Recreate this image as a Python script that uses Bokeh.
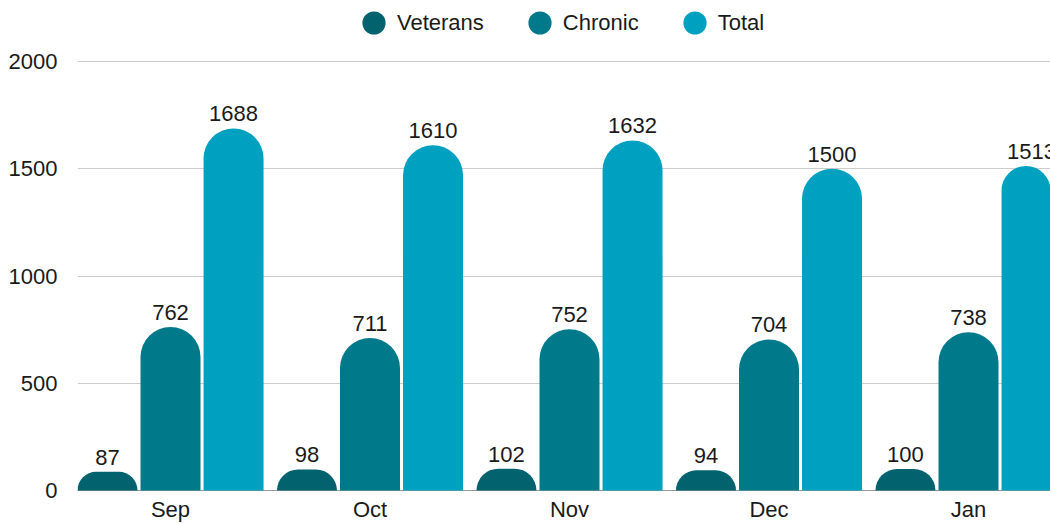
from bokeh.plotting import figure
from bokeh.models import (ColumnDataSource, Range1d, FixedTicker, LabelSet,
                          Legend, LegendItem, Span)
from bokeh.core.properties import value
from bokeh.embed import file_html
from bokeh.resources import INLINE

# ---- data ----
months = ["Sep", "Oct", "Nov", "Dec", "Jan"]
veterans = [87, 98, 102, 94, 100]
chronic = [762, 711, 752, 704, 738]
total = [1688, 1610, 1632, 1500, 1513]
series_names = ["Veterans", "Chronic", "Total"]
series_values = [veterans, chronic, total]
series_colors = ["#02636F", "#007A8A", "#00A1C0"]
y_ticks = [0, 500, 1000, 1500, 2000]

# ---- layout constants ----
W, H = 1050, 523
FONT = "Liberation Sans"
FS = "22px"
TXT = "#1a1a1a"
BAR_W = 0.3008
OFFSET = 0.316

p = figure(width=W, height=H, output_backend="svg", toolbar_location=None,
           x_range=Range1d(-0.4662, 4.411), y_range=Range1d(-153.8, 2284.4),
           x_axis_location=None,
           min_border_left=77, min_border_right=0, min_border_top=0,
           min_border_bottom=0)
p.outline_line_color = None
p.background_fill_color = "white"
p.border_fill_color = "white"

zero = Span(location=0, dimension="width", line_color="#9a9a9a", line_width=1,
            level="underlay")
p.add_layout(zero)

legend_items = []
for k, (name, vals, col) in enumerate(zip(series_names, series_values, series_colors)):
    xs = [i + (k - 1) * OFFSET for i in range(len(months))]
    src = ColumnDataSource(dict(x=xs, top=vals, base=[0] * len(vals),
                                label=[str(v) for v in vals]))
    p.vbar(x="x", top="top", bottom=0, width=BAR_W, source=src,
           fill_color=col, line_color=None, border_radius=(30, 30, 0, 0))
    p.add_layout(LabelSet(x="x", y="top", text="label", source=src,
                          text_align="center", text_baseline="alphabetic",
                          y_offset=7, text_font=value(FONT),
                          text_font_size=value(FS), text_color=value(TXT)))
    # legend swatch proxy (1px, hidden under the bars' base)
    proxy = p.ellipse(x="x", y="base", width=1, height=1, width_units="screen",
                      height_units="screen", source=src, fill_color=col,
                      line_color=None, level="underlay")
    legend_items.append(LegendItem(label=name, renderers=[proxy]))

legend = Legend(items=legend_items, orientation="horizontal",
                location=(282, 486), glyph_width=29, glyph_height=29,
                label_standoff=9, spacing=41, padding=0, margin=0,
                border_line_alpha=0, background_fill_alpha=0,
                label_text_font=FONT, label_text_font_size=FS,
                label_text_color=TXT)
p.add_layout(legend)

# y axis
p.yaxis.ticker = FixedTicker(ticks=y_ticks)
p.ygrid.ticker = FixedTicker(ticks=y_ticks)
p.ygrid.grid_line_color = "#cccccc"
p.xgrid.grid_line_color = None
p.yaxis.axis_line_color = None
p.yaxis.major_tick_line_color = None
p.yaxis.minor_tick_line_color = None
p.yaxis.major_tick_out = 0
p.yaxis.minor_tick_out = 0
p.yaxis.major_label_standoff = 20
p.yaxis.major_label_text_font = FONT
p.yaxis.major_label_text_font_size = FS
p.yaxis.major_label_text_color = TXT

# category labels under each group
cat_src = ColumnDataSource(dict(x=list(range(len(months))),
                                y=[0] * len(months), text=months))
p.add_layout(LabelSet(x="x", y="y", text="text", source=cat_src,
                      text_align="center", text_baseline="alphabetic",
                      y_offset=-26, text_font=value(FONT),
                      text_font_size=value(FS), text_color=value(TXT)))

open("out.html", "w").write(file_html(p, INLINE))
